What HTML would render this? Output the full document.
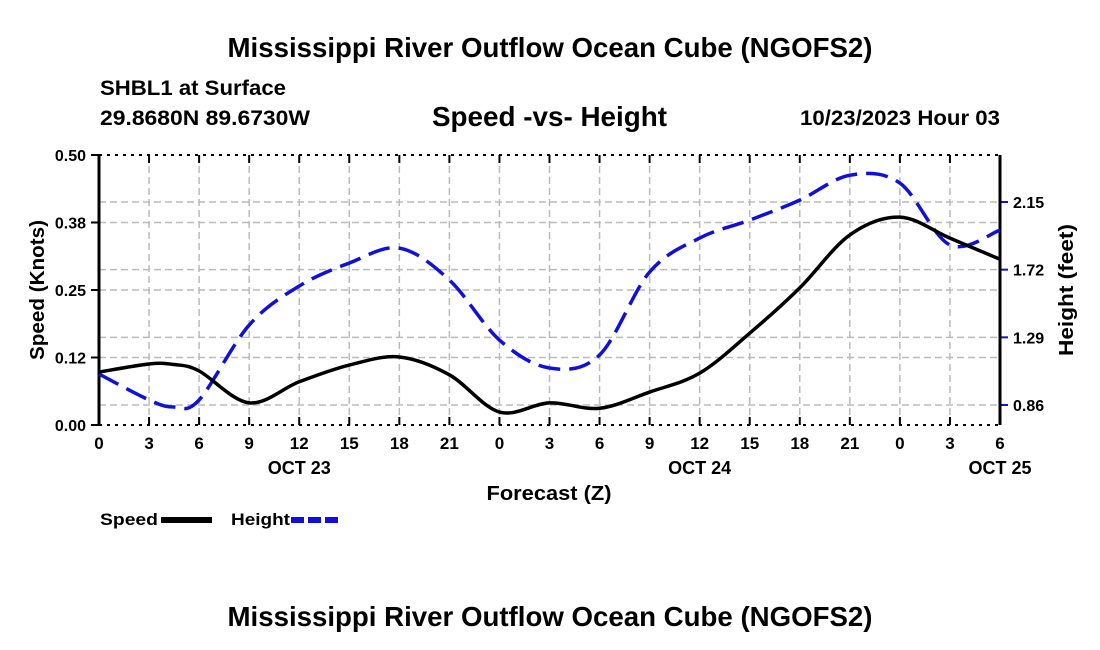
<!DOCTYPE html>
<html><head><meta charset="utf-8"><style>
html,body{margin:0;padding:0;background:#fff;}
svg{display:block;font-family:"Liberation Sans",Arial,sans-serif;font-weight:bold;}
</style></head><body>
<svg id="chart" width="1100" height="650" viewBox="0 0 1100 650">
<text x="550" y="57" text-anchor="middle" font-size="28" textLength="645" lengthAdjust="spacingAndGlyphs">Mississippi River Outflow Ocean Cube (NGOFS2)</text>
<text x="100" y="95" font-size="21" textLength="186" lengthAdjust="spacingAndGlyphs">SHBL1 at Surface</text>
<text x="100" y="125" font-size="21" textLength="210" lengthAdjust="spacingAndGlyphs">29.8680N  89.6730W</text>
<text x="432" y="126" font-size="28" textLength="235" lengthAdjust="spacingAndGlyphs">Speed -vs- Height</text>
<text x="1000" y="125" font-size="21" text-anchor="end" textLength="200" lengthAdjust="spacingAndGlyphs">10/23/2023 Hour 03</text>
<g id="grid"></g>
<g id="axes"></g>
<g id="series"></g>
<text transform="translate(44,290) rotate(-90)" text-anchor="middle" font-size="20" textLength="140" lengthAdjust="spacingAndGlyphs">Speed (Knots)</text>
<text transform="translate(1073,290) rotate(-90)" text-anchor="middle" font-size="20" textLength="132" lengthAdjust="spacingAndGlyphs">Height (feet)</text>
<text x="549" y="500" text-anchor="middle" font-size="20" textLength="125" lengthAdjust="spacingAndGlyphs">Forecast (Z)</text>
<g>
<g><text x="100" y="525" font-size="17" textLength="58" lengthAdjust="spacingAndGlyphs">Speed</text><line x1="161" y1="520" x2="212" y2="520" stroke="#000" stroke-width="6"/></g>
<g><text x="231" y="525" font-size="17" textLength="59" lengthAdjust="spacingAndGlyphs">Height</text><line x1="291" y1="520" x2="342" y2="520" stroke="#1010dd" stroke-width="6" stroke-dasharray="13,4"/></g>
</g>
<text x="550" y="626" text-anchor="middle" font-size="28" textLength="645" lengthAdjust="spacingAndGlyphs">Mississippi River Outflow Ocean Cube (NGOFS2)</text>
</svg>
<script>
const hours = [0,3,4.5,6,9,12,15,18,21,24,27,30,33,36,39,42,45,48,51,54];
const speedValues = [0.098,0.113,0.112,0.100,0.041,0.080,0.111,0.126,0.093,0.024,0.041,0.031,0.061,0.096,0.170,0.254,0.352,0.385,0.346,0.307];
const heightValues = [1.057,0.892,0.847,0.892,1.368,1.616,1.762,1.857,1.654,1.273,1.095,1.178,1.705,1.921,2.035,2.162,2.320,2.270,1.877,1.972];
const xTickLabels = ['0','3','6','9','12','15','18','21','0','3','6','9','12','15','18','21','0','3','6'];
const dayLabels = ['OCT 23','OCT 24','OCT 25'];
const dayHours = [12,36,54];
const leftTicks = [0,0.125,0.25,0.375,0.5];
const leftTickLabels = ['0.00','0.12','0.25','0.38','0.50'];
const rightTicks = [0.86,1.29,1.72,2.15];

const X0=99,X1=1000,Y0=425,Y1=155;
const xs = h => X0 + (h/54)*(X1-X0);
const ySpeed = v => Y0 - v/0.5*(Y0-Y1);
const yHeight = v => 405 - (v-0.86)*(203/1.29);
const NS='http://www.w3.org/2000/svg';
function mk(tag, attrs, parent){const e=document.createElementNS(NS,tag);for(const k in attrs)e.setAttribute(k,attrs[k]);parent.appendChild(e);return e;}
const grid=document.getElementById('grid'), axes=document.getElementById('axes'), series=document.getElementById('series');
xTickLabels.forEach((l,i)=>{const x=xs(i*3);
 if(i>0&&i<xTickLabels.length-1){const g=mk('line',{x1:x,y1:Y1,x2:x,y2:Y0,stroke:'#bbb','stroke-width':1.5,'stroke-dasharray':'7,4'},grid);
 
 }
 mk('line',{x1:x,y1:Y0,x2:x,y2:Y0-8,stroke:'#000','stroke-width':2},axes);
 mk('line',{x1:x,y1:Y1,x2:x,y2:Y1+8,stroke:'#000','stroke-width':2},axes);
 const tx=mk('text',{x:x,y:Y0+24,'text-anchor':'middle','font-size':17},axes);tx.textContent=l;
 
 
});
dayLabels.forEach((l,i)=>{const tx=mk('text',{x:xs(dayHours[i]),y:Y0+49,'text-anchor':'middle','font-size':18},axes);tx.textContent=l;
 
 });
leftTicks.forEach((v,i)=>{const y=ySpeed(v);
 if(i>0&&i<leftTicks.length-1){const g=mk('line',{x1:X0,y1:y,x2:X1,y2:y,stroke:'#bbb','stroke-width':1.5,'stroke-dasharray':'7,4'},grid);
 
 }
 mk('line',{x1:X0-8,y1:y,x2:X0,y2:y,stroke:'#000','stroke-width':2},axes);
 const tx=mk('text',{x:X0-13,y:y+6,'text-anchor':'end','font-size':16},axes);tx.textContent=leftTickLabels[i];
 
 });
rightTicks.forEach(v=>{const y=yHeight(v);
 const g=mk('line',{x1:X0,y1:y,x2:X1,y2:y,stroke:'#bbb','stroke-width':1.5,'stroke-dasharray':'7,4'},grid);
 
 
 mk('line',{x1:X1,y1:y,x2:X1+8,y2:y,stroke:'#1010dd','stroke-width':2},axes);
 const tx=mk('text',{x:X1+13,y:y+6,'font-size':16},axes);tx.textContent=v.toFixed(2);
 
 });
mk('line',{x1:X0,y1:Y1,x2:X1,y2:Y1,stroke:'#000','stroke-width':2,'stroke-dasharray':'3,5'},axes);
mk('line',{x1:X0,y1:Y0,x2:X1,y2:Y0,stroke:'#000','stroke-width':2,'stroke-dasharray':'3,5'},axes);
mk('line',{x1:X0,y1:Y1,x2:X0,y2:Y0,stroke:'#000','stroke-width':3},axes);
mk('line',{x1:X1,y1:Y1,x2:X1,y2:Y0,stroke:'#000','stroke-width':3},axes);
function smooth(pts){let d='M'+pts[0][0]+','+pts[0][1];
 for(let i=0;i<pts.length-1;i++){const p0=pts[Math.max(0,i-1)],p1=pts[i],p2=pts[i+1],p3=pts[Math.min(pts.length-1,i+2)];
 const c1=[p1[0]+(p2[0]-p0[0])/6,p1[1]+(p2[1]-p0[1])/6],c2=[p2[0]-(p3[0]-p1[0])/6,p2[1]-(p3[1]-p1[1])/6];
 d+=' C'+c1+' '+c2+' '+p2;}return d;}
const hp=mk('path',{d:smooth(hours.map((h,i)=>[xs(h),yHeight(heightValues[i])])),fill:'none',stroke:'#1010dd','stroke-width':3.5,'stroke-dasharray':'22,9'},series);


const sp=mk('path',{d:smooth(hours.map((h,i)=>[xs(h),ySpeed(speedValues[i])])),fill:'none',stroke:'#000','stroke-width':3.5},series);


</script>
</body></html>
